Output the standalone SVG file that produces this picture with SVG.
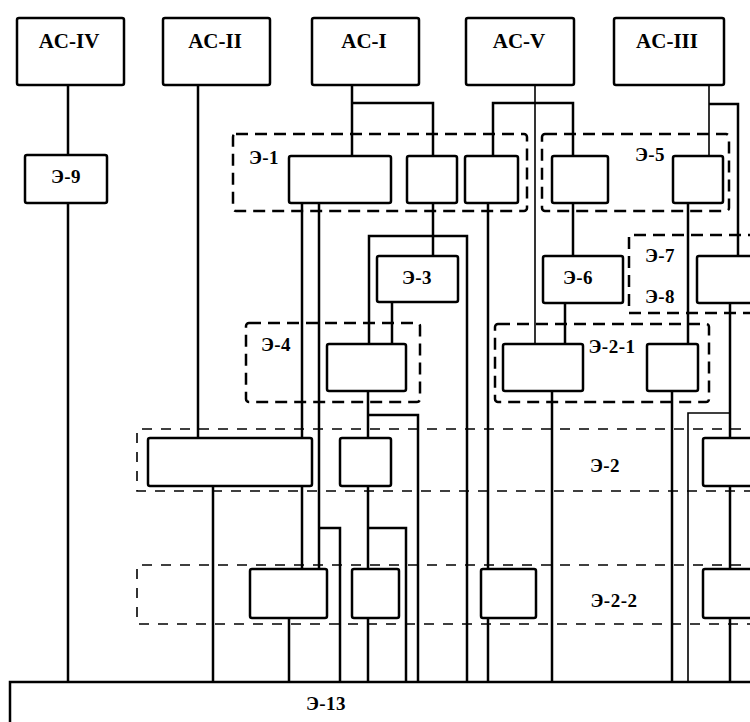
<svg xmlns="http://www.w3.org/2000/svg" width="750" height="722" viewBox="0 0 750 722">
<style>
.box{fill:#fff;stroke:#000;stroke-width:2.5}
.dash{fill:none;stroke:#000;stroke-width:2.5;stroke-dasharray:12 7}
.dash2{fill:none;stroke:#000;stroke-width:1.6;stroke-dasharray:10 9}
.ln{fill:none;stroke:#000;stroke-width:2.5}
.thin{fill:none;stroke:#000;stroke-width:1.6}
.t{font-family:"Liberation Serif",serif;font-weight:bold;font-size:21px;text-anchor:middle;fill:#000}
.s{font-family:"Liberation Serif",serif;font-weight:bold;font-size:19px;letter-spacing:0.5px;text-anchor:middle;fill:#000}
</style>
<rect width="750" height="722" fill="#fff"/>
<g id="groups">
<rect class="dash" x="233" y="134" width="294" height="77" rx="3"/>
<rect class="dash" x="542" y="134" width="187" height="77" rx="3"/>
<path class="dash" d="M760 235 H629 V313 H760"/>
<rect class="dash" x="246" y="323" width="174" height="79" rx="3"/>
<rect class="dash" x="495" y="324" width="214" height="78" rx="3"/>
<path class="dash2" d="M760 429 H137 V491 H760"/>
<path class="dash2" d="M760 565 H137 V624 H760"/>
<text class="s" x="264" y="164">Э-1</text>
<text class="s" x="650" y="161">Э-5</text>
<text class="s" x="660" y="262">Э-7</text>
<text class="s" x="660" y="303">Э-8</text>
<text class="s" x="276" y="351">Э-4</text>
<text class="s" x="612" y="353">Э-2-1</text>
<text class="s" x="605" y="472">Э-2</text>
<text class="s" x="614" y="607">Э-2-2</text>
</g>
<g id="connectors">
<path class="ln" d="M68 85 V155 M68 203 V682"/>
<path class="ln" d="M198 85 V438"/>
<path class="ln" d="M352 85 V156 M352 103 H433 V156"/>
<path class="ln" d="M302 203 V438 M319 203 V569 M319 528 H340 V682"/>
<path class="ln" d="M433 203 V256"/>
<path class="ln" d="M369 344 V236 H467 V682"/>
<path class="ln" d="M392 302 V344"/>
<path class="ln" d="M368 391 V438 M368 415 H418 V682"/>
<path class="ln" d="M213 486 V682 M302 486 V569"/>
<path class="ln" d="M368 486 V569 M368 528 H406 V682"/>
<path class="ln" d="M289 618 V682 M368 618 V682"/>
<path class="thin" d="M535 85 V344"/>
<path class="ln" d="M493 156 V103 H573 V156"/>
<path class="ln" d="M488 203 V569 M488 618 V682"/>
<path class="ln" d="M573 203 V256 M565 303 V344 M552 391 V682"/>
<path class="thin" d="M709 85 V156"/>
<path class="ln" d="M709 104 H738 V256"/>
<path class="ln" d="M688 203 V344 M672 391 V682"/>
<path class="ln" d="M730 303 V438 M730 486 V569 M730 618 V682"/>
<path class="thin" d="M730 413 H688 V682"/>
</g>
<g id="AC-IV"><rect class="box" x="17" y="18" width="107" height="67" rx="2"/><text class="t" x="69" y="48">AC-IV</text></g>
<g id="AC-II"><rect class="box" x="163" y="18" width="107" height="67" rx="2"/><text class="t" x="215" y="48">AC-II</text></g>
<g id="AC-I"><rect class="box" x="312" y="18" width="107" height="67" rx="2"/><text class="t" x="364" y="48">AC-I</text></g>
<g id="AC-V"><rect class="box" x="466" y="18" width="108" height="67" rx="2"/><text class="t" x="519" y="48">AC-V</text></g>
<g id="AC-III"><rect class="box" x="614" y="18" width="110" height="67" rx="2"/><text class="t" x="667" y="48">AC-III</text></g>
<g id="E9"><rect class="box" x="25" y="155" width="82" height="48" rx="2"/><text class="s" x="66" y="183">Э-9</text></g>
<g id="E1-a"><rect class="box" x="289" y="156" width="102" height="47" rx="2"/></g>
<g id="E1-b"><rect class="box" x="407" y="156" width="50" height="47" rx="2"/></g>
<g id="E1-c"><rect class="box" x="465" y="156" width="53" height="47" rx="2"/></g>
<g id="E5-a"><rect class="box" x="552" y="156" width="56" height="47" rx="2"/></g>
<g id="E5-b"><rect class="box" x="673" y="156" width="50" height="47" rx="2"/></g>
<g id="E3"><rect class="box" x="377" y="256" width="81" height="46" rx="2"/><text class="s" x="417" y="284">Э-3</text></g>
<g id="E6"><rect class="box" x="543" y="256" width="80" height="47" rx="2"/><text class="s" x="578" y="284">Э-6</text></g>
<g id="E78"><rect class="box" x="697" y="256" width="70" height="47" rx="2"/></g>
<g id="E4"><rect class="box" x="327" y="344" width="79" height="47" rx="2"/></g>
<g id="E21-a"><rect class="box" x="503" y="344" width="80" height="47" rx="2"/></g>
<g id="E21-b"><rect class="box" x="647" y="344" width="51" height="47" rx="2"/></g>
<g id="E2-a"><rect class="box" x="148" y="438" width="164" height="48" rx="2"/></g>
<g id="E2-b"><rect class="box" x="340" y="438" width="51" height="48" rx="2"/></g>
<g id="E2-c"><rect class="box" x="703" y="438" width="70" height="48" rx="2"/></g>
<g id="E22-a"><rect class="box" x="250" y="569" width="77" height="49" rx="2"/></g>
<g id="E22-b"><rect class="box" x="352" y="569" width="47" height="49" rx="2"/></g>
<g id="E22-c"><rect class="box" x="481" y="569" width="55" height="49" rx="2"/></g>
<g id="E22-d"><rect class="box" x="703" y="569" width="70" height="49" rx="2"/></g>
<g id="E13"><rect class="box" x="10" y="682" width="770" height="60"/><text class="s" x="326" y="710">Э-13</text></g>
</svg>
